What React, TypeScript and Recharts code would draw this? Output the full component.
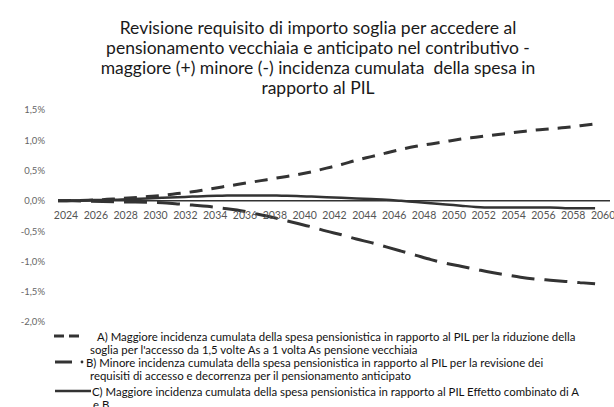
import { LineChart, Line, XAxis, YAxis, ReferenceLine } from 'recharts';

const years = [
  2024, 2025, 2026, 2027, 2028, 2029, 2030, 2031, 2032, 2033, 2034, 2035, 2036, 2037, 2038, 2039, 2040, 2041, 2042,
  2043, 2044, 2045, 2046, 2047, 2048, 2049, 2050, 2051, 2052, 2053, 2054, 2055, 2056, 2057, 2058, 2059, 2060,
];

// A) maggiore incidenza - riduzione soglia vecchiaia (%)
const seriesA = [
  0, 0.005, 0.01, 0.02, 0.035, 0.05, 0.07, 0.09, 0.12, 0.15, 0.19, 0.23, 0.27, 0.31, 0.35, 0.39, 0.43, 0.48, 0.54,
  0.6, 0.67, 0.73, 0.79, 0.85, 0.9, 0.94, 0.98, 1.02, 1.05, 1.08, 1.11, 1.14, 1.17, 1.19, 1.21, 1.24, 1.27,
];

// B) minore incidenza - revisione requisiti anticipato (%)
const seriesB = [
  0, 0, -0.005, -0.01, -0.015, -0.02, -0.025, -0.03, -0.05, -0.07, -0.09, -0.12, -0.15, -0.2, -0.25, -0.31, -0.37,
  -0.43, -0.5, -0.56, -0.63, -0.69, -0.76, -0.83, -0.9, -0.97, -1.03, -1.08, -1.13, -1.18, -1.22, -1.26, -1.29, -1.31,
  -1.33, -1.35, -1.37,
];

// C) effetto combinato (%)
const seriesC = [
  0, 0.005, 0.01, 0.015, 0.02, 0.03, 0.04, 0.05, 0.06, 0.07, 0.08, 0.085, 0.09, 0.09, 0.09, 0.085, 0.08, 0.07, 0.06,
  0.05, 0.04, 0.03, 0.02, 0, -0.02, -0.04, -0.06, -0.08, -0.1, -0.11, -0.11, -0.11, -0.11, -0.11, -0.12, -0.12, -0.12,
];

const yTicks = [-2, -1.5, -1, -0.5, 0, 0.5, 1, 1.5];
const xTicks = [2024, 2026, 2028, 2030, 2032, 2034, 2036, 2038, 2040, 2042, 2044, 2046, 2048, 2050, 2052, 2054, 2056, 2058, 2060];

const titleLines = [
  'Revisione requisito di importo soglia per accedere al',
  'pensionamento vecchiaia e anticipato nel contributivo -',
  'maggiore (+) minore (-) incidenza cumulata  della spesa in',
  'rapporto al PIL',
];

const legendA = [
  'A) Maggiore incidenza cumulata della spesa pensionistica in rapporto al PIL per la riduzione della',
  "soglia per l'accesso da 1,5 volte As a 1 volta As pensione vecchiaia",
];
const legendB = [
  'B) Minore incidenza cumulata della spesa pensionistica in rapporto al PIL per la revisione dei',
  'requisiti di accesso e decorrenza per il pensionamento anticipato',
];
const legendC = [
  'C) Maggiore incidenza cumulata della spesa pensionistica in rapporto al PIL Effetto combinato di A',
  'e B',
];

const data = years.map((y, i) => ({ year: y, a: seriesA[i], b: seriesB[i], c: seriesC[i] }));

const ink = '#333';
const font = 'Lato, "Open Sans", sans-serif';

const fmtPct = (v: number) => v.toFixed(1).replace('.', ',') + '%';

function TextLine({ text, x, y }: { text: string; x: number; y: number }) {
  return (
    <div style={{ position: 'absolute', left: x, top: y - 6.5, fontSize: 11.4, lineHeight: '13px', whiteSpace: 'nowrap' }}>
      {text}
    </div>
  );
}

export default function App() {
  return (
    <div style={{ position: 'relative', width: 614, height: 407, background: '#fff', fontFamily: font, color: '#111', overflow: 'hidden' }}>
      <style>{'body{margin:0}'}</style>
      <div style={{ position: 'absolute', left: 0, top: 18, width: 636, textAlign: 'center', fontSize: 17.5, lineHeight: '20px', color: '#1a1a1a' }}>
        {titleLines.map((t) => (
          <div key={t} style={{ whiteSpace: 'pre' }}>{t}</div>
        ))}
      </div>
      <div style={{ position: 'absolute', left: 0, top: 0 }}>
        <LineChart width={614} height={407} data={data} margin={{ top: 110, right: 4, bottom: 55, left: 8 }}>
          <XAxis
            dataKey="year"
            type="number"
            domain={[2024, 2061]}
            ticks={xTicks}
            interval={0}
            axisLine={false}
            tickLine={false}
            height={30}
            tick={{ fill: '#555', fontSize: 10.5, fontFamily: font, dx: 8, dy: -118 }}
          />
          <YAxis
            domain={[-2, 1.5]}
            ticks={yTicks}
            width={50}
            axisLine={false}
            tickLine={false}
            tickMargin={7}
            tickFormatter={fmtPct}
            tick={{ fill: '#666', fontSize: 9.5, fontFamily: font }}
          />
          <ReferenceLine y={0} stroke={ink} strokeWidth={1.5} />
          <Line type="monotone" dataKey="c" stroke={ink} strokeWidth={2.5} dot={false} isAnimationActive={false} />
          <Line type="monotone" dataKey="a" stroke={ink} strokeWidth={3} strokeDasharray="13 9" dot={false} isAnimationActive={false} />
          <Line type="monotone" dataKey="b" stroke={ink} strokeWidth={3} strokeDasharray="23 10" dot={false} isAnimationActive={false} />
        </LineChart>
      </div>
      <svg style={{ position: 'absolute', left: 0, top: 0 }} width={614} height={407}>
        <line x1={54} x2={64} y1={336} y2={336} stroke={ink} strokeWidth={3} />
        <line x1={69} x2={79} y1={336} y2={336} stroke={ink} strokeWidth={3} />
        <line x1={55} x2={72} y1={362} y2={362} stroke={ink} strokeWidth={3} />
        <circle cx={82} cy={362} r={1.4} fill={ink} />
        <line x1={55} x2={91} y1={391} y2={391} stroke={ink} strokeWidth={2.5} />
      </svg>
      <TextLine text={legendA[0]} x={97} y={336} />
      <TextLine text={legendA[1]} x={90} y={349} />
      <TextLine text={legendB[0]} x={86} y={362} />
      <TextLine text={legendB[1]} x={90} y={375} />
      <TextLine text={legendC[0]} x={92} y={391} />
      <TextLine text={legendC[1]} x={93} y={404} />
    </div>
  );
}
